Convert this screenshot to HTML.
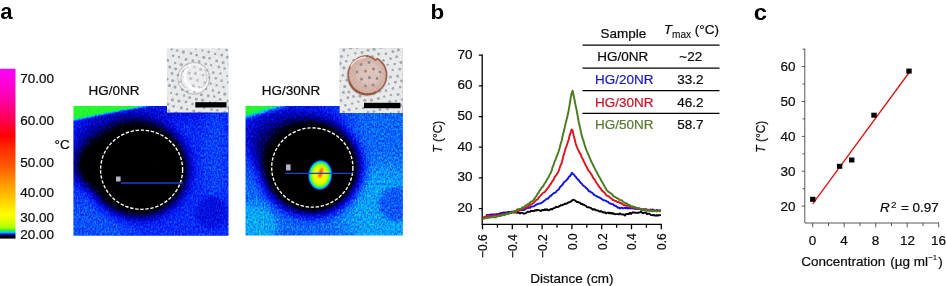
<!DOCTYPE html>
<html><head><meta charset="utf-8"><title>Figure</title>
<style>
html,body{margin:0;padding:0;background:#fff;}
body{width:946px;height:286px;overflow:hidden;position:relative;}
svg{position:absolute;left:0;top:0;display:block;}
text{font-family:"Liberation Sans",sans-serif;font-size:13.4px;fill:#0c0c0c;stroke:#0c0c0c;stroke-width:0.22px;}
.pl{font-weight:bold;font-size:20.5px;fill:#000;stroke:none;}
.i{font-style:italic;}
.r{font-size:12.5px;}
</style></head><body>
<svg width="946" height="286" viewBox="0 0 946 286">
<defs>
<linearGradient id="cbar" x1="0" y1="0" x2="0" y2="1">
<stop offset="0" stop-color="#ff00ff"/>
<stop offset="0.157" stop-color="#ff00b4"/>
<stop offset="0.305" stop-color="#ff0050"/>
<stop offset="0.396" stop-color="#ff0000"/>
<stop offset="0.478" stop-color="#ff3000"/>
<stop offset="0.571" stop-color="#ff5800"/>
<stop offset="0.663" stop-color="#ff9000"/>
<stop offset="0.755" stop-color="#ffc400"/>
<stop offset="0.83" stop-color="#fff000"/>
<stop offset="0.86" stop-color="#ffff00"/>
<stop offset="0.902" stop-color="#d8ff00"/>
<stop offset="0.938" stop-color="#a8ff00"/>
<stop offset="0.9505" stop-color="#30f030"/>
<stop offset="0.963" stop-color="#00d0ff"/>
<stop offset="0.971" stop-color="#0040ff"/>
<stop offset="0.979" stop-color="#000070"/>
<stop offset="0.987" stop-color="#000000"/>
<stop offset="1" stop-color="#000000"/>
</linearGradient>
<filter id="b05" x="-20%" y="-20%" width="140%" height="140%"><feGaussianBlur stdDeviation="0.45"/></filter>
<filter id="b1" x="-20%" y="-20%" width="140%" height="140%"><feGaussianBlur stdDeviation="0.8"/></filter>
<filter id="b2" x="-20%" y="-20%" width="140%" height="140%"><feGaussianBlur stdDeviation="2"/></filter>
<filter id="b4" x="-30%" y="-30%" width="160%" height="160%"><feGaussianBlur stdDeviation="4.5"/></filter>
<filter id="b6" x="-30%" y="-30%" width="160%" height="160%"><feGaussianBlur stdDeviation="6.5"/></filter>
<filter id="b10" x="-50%" y="-50%" width="200%" height="200%"><feGaussianBlur stdDeviation="10"/></filter>
<filter id="palL" filterUnits="userSpaceOnUse" x="73.4" y="106" width="155.1" height="129.7" color-interpolation-filters="sRGB">
<feTurbulence type="fractalNoise" baseFrequency="0.62 0.42" numOctaves="2" seed="4" result="n"/>
<feColorMatrix in="n" type="matrix" values="1 0 0 0 0  1 0 0 0 0  1 0 0 0 0  0 0 0 0 1" result="ng"/>
<feComposite in="SourceGraphic" in2="ng" operator="arithmetic" k1="0" k2="1" k3="0.22" k4="-0.11" result="s"/>
<feColorMatrix in="s" type="matrix" values="1 0 0 0 0  1 0 0 0 0  1 0 0 0 0  0 0 0 0 1" result="s2"/>
<feComponentTransfer in="s2">
<feFuncR type="table" tableValues="0.000 0.000 0.000 0.000 0.000 0.000 0.000 0.010 0.020 0.029 0.039 0.024 0.008 0.039 0.107 0.142 0.176 0.556 0.809 0.936 1.000 1.000 1.000 1.000 1.000 1.000"/>
<feFuncG type="table" tableValues="0.000 0.000 0.000 0.000 0.000 0.000 0.000 0.059 0.118 0.255 0.392 0.573 0.753 0.882 0.946 0.963 0.980 0.993 0.951 0.853 0.670 0.402 0.134 0.000 0.000 0.000"/>
<feFuncB type="table" tableValues="0.000 0.000 0.000 0.167 0.333 0.529 0.725 0.853 0.980 0.990 1.000 1.000 1.000 0.686 0.209 0.183 0.157 0.052 0.000 0.000 0.000 0.000 0.000 0.200 0.600 1.000"/>
</feComponentTransfer>
</filter>
<filter id="palR" filterUnits="userSpaceOnUse" x="245.5" y="106" width="157.4" height="129.5" color-interpolation-filters="sRGB">
<feTurbulence type="fractalNoise" baseFrequency="0.62 0.42" numOctaves="2" seed="11" result="n"/>
<feColorMatrix in="n" type="matrix" values="1 0 0 0 0  1 0 0 0 0  1 0 0 0 0  0 0 0 0 1" result="ng"/>
<feComposite in="SourceGraphic" in2="ng" operator="arithmetic" k1="0" k2="1" k3="0.22" k4="-0.11" result="s"/>
<feColorMatrix in="s" type="matrix" values="1 0 0 0 0  1 0 0 0 0  1 0 0 0 0  0 0 0 0 1" result="s2"/>
<feComponentTransfer in="s2">
<feFuncR type="table" tableValues="0.000 0.000 0.000 0.000 0.000 0.000 0.000 0.010 0.020 0.029 0.039 0.024 0.008 0.039 0.107 0.142 0.176 0.556 0.809 0.936 1.000 1.000 1.000 1.000 1.000 1.000"/>
<feFuncG type="table" tableValues="0.000 0.000 0.000 0.000 0.000 0.000 0.000 0.059 0.118 0.255 0.392 0.573 0.753 0.882 0.946 0.963 0.980 0.993 0.951 0.853 0.670 0.402 0.134 0.000 0.000 0.000"/>
<feFuncB type="table" tableValues="0.000 0.000 0.000 0.167 0.333 0.529 0.725 0.853 0.980 0.990 1.000 1.000 1.000 0.686 0.209 0.183 0.157 0.052 0.000 0.000 0.000 0.000 0.000 0.200 0.600 1.000"/>
</feComponentTransfer>
</filter>
<filter id="paper" x="0" y="0" width="100%" height="100%" color-interpolation-filters="sRGB">
<feTurbulence type="fractalNoise" baseFrequency="0.6" numOctaves="2" seed="2" result="n"/>
<feColorMatrix in="n" type="matrix" values="1 0 0 0 0  1 0 0 0 0  1 0 0 0 0  0 0 0 0 1" result="ng"/>
<feComposite in="SourceGraphic" in2="ng" operator="arithmetic" k1="0" k2="1" k3="0.12" k4="-0.06"/>
</filter>
<radialGradient id="hotc" cx="0.5" cy="0.5" r="0.5">
<stop offset="0" stop-color="#ffc800"/>
<stop offset="0.22" stop-color="#fff000"/>
<stop offset="0.5" stop-color="#e8ff00"/>
<stop offset="0.68" stop-color="#a8ff00"/>
<stop offset="0.79" stop-color="#30f040"/>
<stop offset="0.87" stop-color="#00d8f0"/>
<stop offset="0.93" stop-color="#0050ff"/>
<stop offset="0.98" stop-color="#000080"/>
<stop offset="1" stop-color="#000020" stop-opacity="0"/>
</radialGradient>
<radialGradient id="hot" cx="0.5" cy="0.5" r="0.5">
<stop offset="0" stop-color="#cccccc"/>
<stop offset="0.12" stop-color="#c7c7c7"/>
<stop offset="0.30" stop-color="#bbbbbb"/>
<stop offset="0.55" stop-color="#b5b5b5"/>
<stop offset="0.76" stop-color="#ababab"/>
<stop offset="0.86" stop-color="#949494"/>
<stop offset="0.93" stop-color="#7a7a7a"/>
<stop offset="0.98" stop-color="#4c4c4c"/>
<stop offset="1" stop-color="#262626"/>
</radialGradient>
<clipPath id="cL"><rect x="73.4" y="106" width="155.1" height="129.7"/></clipPath>
<clipPath id="cR"><rect x="245.5" y="106" width="157.4" height="129.5"/></clipPath>
<clipPath id="ciL"><rect x="166.9" y="48.4" width="61.6" height="64.2"/></clipPath>
<clipPath id="ciR"><rect x="339.5" y="48.1" width="63.4" height="64.9"/></clipPath>
</defs>

<!-- panel a -->
<text class="pl" transform="translate(0.2 19.3) scale(1.04 1)" style="font-size:21.3px">a</text>
<rect x="0" y="68.8" width="15.5" height="169.8" fill="url(#cbar)"/>
<text transform="translate(20.3 83.2) scale(1.008 1)">70.00</text>
<text transform="translate(20.3 125.2) scale(1.008 1)">60.00</text>
<text transform="translate(20.3 167.2) scale(1.008 1)">50.00</text>
<text transform="translate(20.3 197.2) scale(1.008 1)">40.00</text>
<text transform="translate(20.3 221.8) scale(1.008 1)">30.00</text>
<text transform="translate(20.3 239) scale(1.008 1)">20.00</text>
<text transform="translate(54.5 149) scale(1.008 1)">°C</text>
<text transform="translate(88.4 94.9) scale(1.008 1)">HG/0NR</text>
<text transform="translate(261.8 94.9) scale(1.008 1)">HG/30NR</text>

<!-- thermal left -->
<g clip-path="url(#cL)">
<g filter="url(#palL)">
<rect x="60" y="95" width="190" height="160" fill="#555555"/>
<ellipse cx="86" cy="226" rx="45" ry="32" fill="#606060" filter="url(#b10)"/>
<ellipse cx="150" cy="112" rx="70" ry="10" fill="#4c4c4c" filter="url(#b4)"/>
<ellipse cx="215" cy="160" rx="12" ry="50" fill="#5c5c5c" filter="url(#b4)"/>
<circle cx="212" cy="212" r="16" fill="#494949" filter="url(#b2)"/>
<ellipse cx="118" cy="140" rx="42" ry="24" fill="#333333" filter="url(#b10)"/>
<g filter="url(#b6)" fill="#000000">
<ellipse cx="138" cy="169" rx="49" ry="47"/>
<ellipse cx="110" cy="165" rx="34" ry="27"/>
</g>
<g fill="#000000" filter="url(#b2)">
<ellipse cx="141.6" cy="169.7" rx="41.5" ry="40"/>
<ellipse cx="110" cy="165" rx="24" ry="17"/>
</g>
<polygon points="60,90 200,90 200,95.6 60,122.6" fill="#999999" filter="url(#b1)"/>
</g>
<ellipse cx="141.6" cy="169.7" rx="41" ry="39.6" fill="none" stroke="#fff" stroke-width="1.35" stroke-dasharray="3.4 1.7"/>
<line x1="121" y1="183" x2="182.8" y2="183" stroke="#2040d0" stroke-width="1.3"/>
<rect x="116" y="176.5" width="4.6" height="5" fill="#b4b4c8"/>
</g>

<!-- thermal right -->
<g clip-path="url(#cR)">
<g filter="url(#palR)">
<rect x="235" y="95" width="190" height="160" fill="#666666"/>
<ellipse cx="275" cy="118" rx="75" ry="28" fill="#4f4f4f" filter="url(#b10)"/>
<ellipse cx="385" cy="210" rx="45" ry="45" fill="#737373" filter="url(#b10)"/>
<ellipse cx="252" cy="226" rx="25" ry="23" fill="#747474" filter="url(#b4)"/>
<circle cx="396" cy="204" r="17" fill="#626262" filter="url(#b2)"/>
<g filter="url(#b10)" fill="#2b2b2b">
<ellipse cx="288" cy="146" rx="40" ry="30"/>
</g>
<g filter="url(#b6)" fill="#000000">
<ellipse cx="311.5" cy="167.5" rx="48" ry="46"/>
</g>
<g fill="#000000" filter="url(#b2)">
<ellipse cx="312.3" cy="167.5" rx="41" ry="40"/>
</g>
<polygon points="235,96 286,96 286,105 245,117.5 235,119" fill="#999999" filter="url(#b2)"/>
</g>
<g transform="rotate(6 320.2 175)">
<ellipse cx="320.2" cy="175" rx="12.2" ry="15.3" fill="url(#hotc)" filter="url(#b05)"/>
<ellipse cx="320.5" cy="172.6" rx="1.5" ry="5.4" fill="#ff3a00" transform="rotate(10 320.5 172.6)" filter="url(#b1)"/>
</g>
<ellipse cx="312.3" cy="167.5" rx="40.6" ry="39.6" fill="none" stroke="#fff" stroke-width="1.35" stroke-dasharray="3.4 1.7"/>
<line x1="285" y1="173.4" x2="352.5" y2="173.4" stroke="#2040d0" stroke-width="1.3"/>
<rect x="286" y="164.4" width="4.6" height="6" fill="#b4b4c8"/>
</g>

<!-- inset left -->
<g clip-path="url(#ciL)">
<g filter="url(#paper)">
<rect x="166.8" y="48.3" width="61.7" height="64.7" fill="#e8e9eb"/>
<g fill="#a2a8b0" filter="url(#b05)"><circle cx="165.9" cy="54.7" r="1.25"/><circle cx="171.6" cy="49.1" r="1.46"/><circle cx="173.1" cy="55.8" r="1.30"/><circle cx="167.6" cy="60.3" r="1.52"/><circle cx="169.8" cy="67.0" r="1.59"/><circle cx="164.8" cy="72.4" r="1.30"/><circle cx="167.1" cy="79.3" r="1.45"/><circle cx="177.2" cy="50.5" r="1.28"/><circle cx="179.0" cy="56.9" r="1.23"/><circle cx="175.2" cy="63.1" r="1.24"/><circle cx="175.7" cy="68.7" r="1.50"/><circle cx="172.0" cy="73.5" r="1.44"/><circle cx="172.7" cy="80.8" r="1.47"/><circle cx="169.4" cy="85.5" r="1.55"/><circle cx="171.0" cy="93.1" r="1.15"/><circle cx="165.8" cy="98.2" r="1.35"/><circle cx="168.0" cy="104.3" r="1.54"/><circle cx="188.7" cy="46.7" r="1.19"/><circle cx="183.4" cy="52.0" r="1.63"/><circle cx="186.0" cy="59.5" r="1.43"/><circle cx="181.3" cy="64.5" r="1.61"/><circle cx="183.4" cy="71.2" r="1.20"/><circle cx="178.0" cy="75.1" r="1.42"/><circle cx="180.4" cy="81.8" r="1.24"/><circle cx="175.0" cy="87.1" r="1.55"/><circle cx="176.8" cy="94.3" r="1.40"/><circle cx="172.4" cy="99.8" r="1.62"/><circle cx="173.6" cy="106.3" r="1.32"/><circle cx="168.8" cy="110.7" r="1.41"/><circle cx="195.8" cy="48.8" r="1.16"/><circle cx="191.0" cy="53.5" r="1.39"/><circle cx="192.8" cy="60.7" r="1.37"/><circle cx="188.0" cy="65.0" r="1.44"/><circle cx="189.2" cy="73.0" r="1.55"/><circle cx="184.0" cy="77.0" r="1.38"/><circle cx="186.7" cy="83.8" r="1.33"/><circle cx="182.3" cy="89.7" r="1.35"/><circle cx="184.1" cy="95.5" r="1.19"/><circle cx="178.9" cy="101.0" r="1.60"/><circle cx="181.3" cy="107.9" r="1.53"/><circle cx="176.2" cy="112.8" r="1.53"/><circle cx="202.4" cy="50.4" r="1.19"/><circle cx="196.6" cy="55.2" r="1.33"/><circle cx="199.2" cy="61.7" r="1.37"/><circle cx="194.5" cy="67.0" r="1.18"/><circle cx="195.5" cy="73.4" r="1.55"/><circle cx="190.7" cy="78.6" r="1.56"/><circle cx="193.4" cy="85.8" r="1.61"/><circle cx="187.6" cy="91.4" r="1.44"/><circle cx="189.7" cy="97.8" r="1.48"/><circle cx="186.0" cy="101.9" r="1.44"/><circle cx="187.1" cy="109.3" r="1.27"/><circle cx="181.7" cy="114.2" r="1.33"/><circle cx="208.7" cy="52.1" r="1.36"/><circle cx="203.7" cy="57.3" r="1.63"/><circle cx="205.7" cy="63.9" r="1.26"/><circle cx="200.7" cy="69.3" r="1.53"/><circle cx="203.1" cy="75.2" r="1.36"/><circle cx="197.5" cy="80.4" r="1.33"/><circle cx="199.4" cy="87.4" r="1.28"/><circle cx="194.2" cy="92.1" r="1.22"/><circle cx="196.3" cy="99.3" r="1.45"/><circle cx="192.5" cy="104.1" r="1.42"/><circle cx="193.8" cy="111.0" r="1.46"/><circle cx="213.0" cy="47.3" r="1.33"/><circle cx="215.1" cy="54.0" r="1.30"/><circle cx="209.6" cy="58.3" r="1.32"/><circle cx="211.1" cy="65.1" r="1.18"/><circle cx="206.8" cy="70.4" r="1.45"/><circle cx="209.2" cy="77.4" r="1.23"/><circle cx="204.7" cy="82.6" r="1.40"/><circle cx="206.1" cy="88.9" r="1.23"/><circle cx="201.4" cy="94.7" r="1.54"/><circle cx="202.6" cy="100.1" r="1.62"/><circle cx="198.9" cy="106.0" r="1.53"/><circle cx="199.6" cy="112.8" r="1.25"/><circle cx="218.9" cy="48.7" r="1.15"/><circle cx="221.7" cy="55.0" r="1.52"/><circle cx="216.6" cy="60.9" r="1.45"/><circle cx="218.9" cy="67.0" r="1.40"/><circle cx="213.3" cy="72.5" r="1.30"/><circle cx="215.8" cy="78.3" r="1.27"/><circle cx="210.6" cy="83.4" r="1.25"/><circle cx="212.9" cy="90.4" r="1.26"/><circle cx="208.2" cy="95.7" r="1.47"/><circle cx="210.1" cy="102.6" r="1.28"/><circle cx="204.1" cy="107.4" r="1.50"/><circle cx="207.0" cy="113.5" r="1.47"/><circle cx="226.5" cy="50.1" r="1.30"/><circle cx="227.6" cy="57.2" r="1.65"/><circle cx="223.1" cy="62.7" r="1.48"/><circle cx="224.7" cy="68.5" r="1.33"/><circle cx="220.5" cy="73.4" r="1.22"/><circle cx="221.5" cy="80.7" r="1.34"/><circle cx="216.7" cy="85.3" r="1.19"/><circle cx="218.9" cy="92.6" r="1.37"/><circle cx="214.2" cy="96.6" r="1.29"/><circle cx="215.4" cy="103.2" r="1.58"/><circle cx="211.6" cy="109.4" r="1.22"/><circle cx="229.3" cy="64.3" r="1.37"/><circle cx="227.2" cy="76.1" r="1.15"/><circle cx="228.3" cy="82.2" r="1.32"/><circle cx="223.5" cy="86.9" r="1.27"/><circle cx="224.8" cy="94.1" r="1.65"/><circle cx="220.1" cy="99.3" r="1.42"/><circle cx="221.9" cy="104.9" r="1.41"/><circle cx="217.3" cy="110.3" r="1.29"/><circle cx="230.8" cy="88.7" r="1.29"/><circle cx="227.9" cy="101.1" r="1.51"/><circle cx="228.5" cy="107.7" r="1.37"/><circle cx="224.7" cy="112.5" r="1.48"/></g>
<circle cx="193.5" cy="78.2" r="14.6" fill="#f4f4f4" fill-opacity="0.35"/>
<circle cx="193.7" cy="78.4" r="16" fill="none" stroke="#a8a8a8" stroke-width="1" opacity="0.75" filter="url(#b05)"/>
<path d="M190 64.8 A14 14 0 0 0 202 89.4" fill="none" stroke="#ffffff" stroke-width="2.8" opacity="0.95" filter="url(#b05)"/>
<path d="M190 64.8 A14 14 0 0 1 207.4 76 A14 14 0 0 1 202 89.4" fill="none" stroke="#f4f4f4" stroke-width="2" opacity="0.7" filter="url(#b05)"/>
<path d="M203.5 69 A12 12 0 0 1 201 88" fill="none" stroke="#b4b4b4" stroke-width="0.9" opacity="0.8" filter="url(#b05)"/>
<path d="M189 66.6 A12.2 12.2 0 0 0 186 88" fill="none" stroke="#b0b0b0" stroke-width="0.9" opacity="0.8" filter="url(#b05)"/>
</g>
<rect x="195.3" y="102.2" width="31.2" height="5.3" fill="#000"/>
</g>

<!-- inset right -->
<g clip-path="url(#ciR)">
<g filter="url(#paper)">
<rect x="339.3" y="48.3" width="63.5" height="65.5" fill="#e8e9eb"/>
<g fill="#a4aab2" filter="url(#b05)"><circle cx="338.1" cy="106.4" r="1.40"/><circle cx="337.3" cy="69.1" r="1.26"/><circle cx="340.2" cy="81.1" r="1.19"/><circle cx="338.1" cy="87.5" r="1.59"/><circle cx="343.4" cy="92.6" r="1.50"/><circle cx="340.9" cy="100.4" r="1.48"/><circle cx="345.4" cy="105.3" r="1.34"/><circle cx="343.6" cy="112.1" r="1.38"/><circle cx="337.9" cy="51.7" r="1.64"/><circle cx="341.4" cy="56.5" r="1.62"/><circle cx="340.0" cy="63.5" r="1.64"/><circle cx="343.9" cy="67.9" r="1.59"/><circle cx="342.9" cy="75.2" r="1.32"/><circle cx="346.8" cy="80.2" r="1.40"/><circle cx="344.8" cy="86.5" r="1.59"/><circle cx="348.9" cy="92.1" r="1.50"/><circle cx="347.9" cy="97.8" r="1.47"/><circle cx="352.1" cy="103.6" r="1.18"/><circle cx="349.2" cy="109.8" r="1.55"/><circle cx="353.9" cy="114.9" r="1.33"/><circle cx="343.8" cy="50.1" r="1.55"/><circle cx="348.1" cy="55.6" r="1.16"/><circle cx="346.2" cy="61.2" r="1.32"/><circle cx="350.8" cy="66.8" r="1.36"/><circle cx="348.5" cy="73.0" r="1.27"/><circle cx="353.7" cy="78.5" r="1.44"/><circle cx="351.4" cy="85.1" r="1.52"/><circle cx="356.0" cy="90.2" r="1.64"/><circle cx="353.5" cy="96.5" r="1.46"/><circle cx="358.4" cy="101.8" r="1.20"/><circle cx="356.5" cy="108.5" r="1.20"/><circle cx="360.9" cy="114.2" r="1.17"/><circle cx="350.4" cy="47.9" r="1.55"/><circle cx="355.3" cy="53.3" r="1.20"/><circle cx="353.5" cy="60.3" r="1.22"/><circle cx="356.9" cy="65.9" r="1.42"/><circle cx="355.1" cy="72.1" r="1.31"/><circle cx="360.4" cy="77.2" r="1.63"/><circle cx="358.0" cy="84.4" r="1.27"/><circle cx="362.5" cy="89.0" r="1.56"/><circle cx="359.9" cy="96.1" r="1.55"/><circle cx="364.8" cy="100.2" r="1.53"/><circle cx="363.2" cy="108.0" r="1.43"/><circle cx="368.1" cy="112.4" r="1.32"/><circle cx="357.3" cy="47.3" r="1.51"/><circle cx="362.1" cy="52.6" r="1.49"/><circle cx="360.0" cy="59.1" r="1.30"/><circle cx="364.5" cy="63.7" r="1.50"/><circle cx="362.0" cy="70.5" r="1.24"/><circle cx="367.1" cy="75.3" r="1.55"/><circle cx="364.8" cy="82.4" r="1.48"/><circle cx="368.7" cy="88.2" r="1.24"/><circle cx="367.1" cy="94.2" r="1.49"/><circle cx="371.5" cy="100.1" r="1.58"/><circle cx="370.1" cy="105.4" r="1.23"/><circle cx="374.0" cy="111.6" r="1.33"/><circle cx="368.1" cy="50.2" r="1.47"/><circle cx="366.3" cy="57.3" r="1.22"/><circle cx="370.4" cy="63.0" r="1.44"/><circle cx="369.1" cy="69.4" r="1.24"/><circle cx="373.2" cy="73.8" r="1.52"/><circle cx="370.6" cy="81.6" r="1.39"/><circle cx="375.5" cy="85.7" r="1.55"/><circle cx="374.1" cy="93.1" r="1.48"/><circle cx="378.4" cy="98.4" r="1.51"/><circle cx="375.6" cy="104.9" r="1.61"/><circle cx="379.9" cy="109.4" r="1.53"/><circle cx="374.0" cy="49.2" r="1.58"/><circle cx="372.4" cy="56.6" r="1.29"/><circle cx="377.0" cy="60.7" r="1.56"/><circle cx="375.7" cy="67.4" r="1.31"/><circle cx="379.9" cy="72.5" r="1.17"/><circle cx="377.4" cy="79.5" r="1.42"/><circle cx="382.2" cy="84.6" r="1.36"/><circle cx="379.8" cy="91.0" r="1.54"/><circle cx="384.1" cy="96.6" r="1.21"/><circle cx="383.1" cy="103.7" r="1.21"/><circle cx="387.5" cy="109.0" r="1.34"/><circle cx="385.5" cy="115.6" r="1.15"/><circle cx="380.8" cy="47.4" r="1.25"/><circle cx="378.5" cy="54.0" r="1.47"/><circle cx="383.4" cy="60.4" r="1.32"/><circle cx="382.2" cy="66.0" r="1.42"/><circle cx="385.9" cy="72.1" r="1.32"/><circle cx="383.6" cy="78.2" r="1.27"/><circle cx="389.0" cy="83.8" r="1.16"/><circle cx="386.0" cy="90.6" r="1.31"/><circle cx="390.9" cy="94.9" r="1.27"/><circle cx="389.6" cy="101.5" r="1.51"/><circle cx="393.9" cy="107.1" r="1.49"/><circle cx="391.2" cy="113.6" r="1.40"/><circle cx="387.1" cy="46.3" r="1.62"/><circle cx="385.9" cy="53.9" r="1.33"/><circle cx="390.6" cy="58.6" r="1.45"/><circle cx="387.7" cy="64.7" r="1.19"/><circle cx="392.7" cy="70.1" r="1.25"/><circle cx="390.5" cy="76.9" r="1.51"/><circle cx="395.4" cy="82.3" r="1.45"/><circle cx="393.0" cy="88.4" r="1.43"/><circle cx="398.1" cy="94.5" r="1.56"/><circle cx="395.8" cy="100.9" r="1.16"/><circle cx="400.7" cy="105.2" r="1.49"/><circle cx="398.7" cy="112.0" r="1.35"/><circle cx="392.9" cy="51.5" r="1.53"/><circle cx="396.6" cy="56.8" r="1.54"/><circle cx="394.7" cy="64.0" r="1.26"/><circle cx="399.7" cy="69.2" r="1.40"/><circle cx="397.7" cy="76.1" r="1.54"/><circle cx="401.5" cy="81.0" r="1.46"/><circle cx="400.2" cy="87.1" r="1.38"/><circle cx="403.7" cy="92.1" r="1.41"/><circle cx="402.3" cy="99.4" r="1.29"/><circle cx="404.2" cy="110.4" r="1.37"/><circle cx="398.4" cy="50.0" r="1.51"/><circle cx="403.9" cy="55.1" r="1.17"/><circle cx="401.0" cy="62.4" r="1.62"/><circle cx="403.9" cy="74.3" r="1.47"/></g>
<circle cx="367.0" cy="76.2" r="19.6" fill="#7a6a66" opacity="0.45" filter="url(#b1)"/>
<path d="M367.4 55.9 A19.2 19.2 0 1 0 380 60.6 L377.5 58.6 L375.6 60.2 A19.2 19.2 0 0 0 367.4 55.9 Z" fill="#d2b2a7" stroke="#9a654f" stroke-width="1.7" stroke-linejoin="round"/>
<circle cx="369" cy="74" r="12" fill="#e2ccc4" opacity="0.7" filter="url(#b2)"/>
<path d="M349.4 82 A19 19 0 0 0 376 92.2" fill="none" stroke="#96583e" stroke-width="2.2" opacity="0.9" filter="url(#b05)"/>
<path d="M350.5 66.5 A18.4 18.4 0 0 1 366 57" fill="none" stroke="#fbeee8" stroke-width="1.3" opacity="0.9" filter="url(#b05)"/>
<g fill="#8c828a" opacity="0.9" filter="url(#b05)">
<circle cx="361" cy="64.5" r="1.4"/><circle cx="369" cy="62.5" r="1.4"/>
<circle cx="357" cy="72" r="1.4"/><circle cx="365.5" cy="71" r="1.5"/><circle cx="373.5" cy="69" r="1.5"/><circle cx="380" cy="72" r="1.3"/>
<circle cx="361.5" cy="79" r="1.5"/><circle cx="369.5" cy="77.5" r="1.5"/><circle cx="377" cy="78.5" r="1.4"/>
<circle cx="365.5" cy="86" r="1.4"/><circle cx="373" cy="85" r="1.5"/>
</g>
</g>
<rect x="364" y="102.8" width="36.4" height="5.4" fill="#000"/>
</g>

<!-- panel b -->
<text class="pl" transform="translate(430.4 18.8) scale(1.12 1)" style="font-size:20px">b</text>
<g stroke="#000" stroke-width="1.3" fill="none">
<path d="M482.2 54.6 V224.3 H661.9"/>
<path d="M478.8 55.2 H482.2 M478.8 85.9 H482.2 M478.8 116.6 H482.2 M478.8 147.2 H482.2 M478.8 177.9 H482.2 M478.8 208.6 H482.2"/>
<path d="M482.5 224.3 V229.3 M512.3 224.3 V229.3 M542.1 224.3 V229.3 M571.9 224.3 V229.3 M601.7 224.3 V229.3 M631.5 224.3 V229.3 M661.3 224.3 V229.3"/>
<path d="M497.4 224.3 V227.8 M527.2 224.3 V227.8 M557 224.3 V227.8 M586.8 224.3 V227.8 M616.6 224.3 V227.8 M646.4 224.3 V227.8"/>
</g>
<g text-anchor="end">
<text transform="translate(472.6 58.7) scale(1.008 1)">70</text>
<text transform="translate(472.6 89.4) scale(1.008 1)">60</text>
<text transform="translate(472.6 120.1) scale(1.008 1)">50</text>
<text transform="translate(472.6 150.7) scale(1.008 1)">40</text>
<text transform="translate(472.6 181.4) scale(1.008 1)">30</text>
<text transform="translate(472.6 212.1) scale(1.008 1)">20</text>
</g>
<text transform="translate(441.9 152.7) rotate(-90) scale(0.95 1)" style="font-size:12.6px"><tspan class="i">T</tspan> (°C)</text>
<g>
<text class="r" transform="translate(487.3 258) rotate(-90) scale(0.955 1)">−0.6</text>
<text class="r" transform="translate(517.1 258) rotate(-90) scale(0.955 1)">−0.4</text>
<text class="r" transform="translate(546.9 258) rotate(-90) scale(0.955 1)">−0.2</text>
<text class="r" transform="translate(576.7 250) rotate(-90) scale(0.955 1)">0.0</text>
<text class="r" transform="translate(606.5 250) rotate(-90) scale(0.955 1)">0.2</text>
<text class="r" transform="translate(636.3 250) rotate(-90) scale(0.955 1)">0.4</text>
<text class="r" transform="translate(666.1 250) rotate(-90) scale(0.955 1)">0.6</text>
</g>
<text transform="translate(530.2 282.6) scale(1.008 1)">Distance (cm)</text>
<g fill="none" stroke-width="1.95" stroke-linejoin="round" stroke-linecap="butt">
<path stroke="#000" d="M486.0 215.2 L487.0 215.4 L488.0 215.4 L489.0 215.8 L490.0 215.8 L491.0 214.7 L492.0 214.7 L493.0 214.7 L494.0 214.6 L495.0 214.7 L496.0 214.6 L497.0 214.4 L498.0 214.7 L499.0 213.9 L500.0 213.4 L501.0 213.1 L502.0 213.1 L503.0 212.8 L504.0 212.4 L505.0 213.1 L506.0 212.7 L507.0 212.4 L508.0 212.2 L509.0 211.9 L510.0 212.1 L511.0 213.0 L512.0 211.5 L513.0 212.3 L514.0 212.5 L515.0 212.3 L516.0 212.2 L517.0 212.8 L518.0 212.2 L519.0 213.0 L520.0 213.4 L521.0 212.7 L522.0 212.9 L523.0 213.3 L524.0 213.6 L525.0 213.5 L526.0 213.0 L527.0 212.2 L528.0 211.7 L529.0 211.9 L530.0 211.7 L531.0 210.8 L532.0 211.0 L533.0 210.9 L534.0 211.0 L535.0 210.2 L536.0 210.6 L537.0 209.9 L538.0 210.1 L539.0 210.1 L540.0 210.6 L541.0 211.1 L542.0 210.0 L543.0 210.0 L544.0 210.2 L545.0 209.3 L546.0 210.0 L547.0 209.3 L548.0 210.3 L549.0 210.1 L550.0 209.7 L551.0 208.9 L552.0 209.4 L553.0 208.6 L554.0 208.1 L555.0 207.9 L556.0 206.7 L557.0 207.1 L558.0 207.0 L559.0 206.4 L560.0 205.9 L561.0 205.1 L562.0 205.3 L563.0 204.7 L564.0 204.3 L565.0 203.7 L566.0 203.8 L567.0 203.4 L568.0 202.6 L569.0 202.3 L570.0 201.9 L571.0 201.5 L572.0 200.5 L573.0 199.8 L574.0 199.9 L575.0 200.5 L576.0 201.2 L577.0 201.9 L578.0 201.9 L579.0 202.6 L580.0 202.6 L581.0 204.0 L582.0 203.9 L583.0 204.6 L584.0 204.8 L585.0 205.4 L586.0 205.8 L587.0 207.2 L588.0 207.2 L589.0 207.4 L590.0 207.6 L591.0 208.1 L592.0 208.9 L593.0 209.7 L594.0 209.0 L595.0 209.6 L596.0 210.2 L597.0 210.4 L598.0 210.4 L599.0 211.2 L600.0 211.7 L601.0 211.0 L602.0 211.9 L603.0 212.3 L604.0 212.5 L605.0 212.2 L606.0 213.4 L607.0 212.9 L608.0 212.6 L609.0 213.3 L610.0 212.7 L611.0 213.6 L612.0 212.9 L613.0 213.8 L614.0 213.5 L615.0 214.2 L616.0 214.1 L617.0 214.1 L618.0 214.0 L619.0 214.4 L620.0 213.4 L621.0 214.3 L622.0 214.4 L623.0 214.4 L624.0 214.5 L625.0 215.5 L626.0 214.0 L627.0 214.1 L628.0 213.8 L629.0 214.1 L630.0 212.7 L631.0 213.9 L632.0 212.9 L633.0 212.2 L634.0 212.6 L635.0 212.8 L636.0 212.8 L637.0 212.7 L638.0 212.9 L639.0 212.5 L640.0 212.4 L641.0 211.6 L642.0 212.7 L643.0 213.1 L644.0 212.8 L645.0 212.5 L646.0 212.9 L647.0 214.2 L648.0 213.6 L649.0 213.8 L650.0 214.1 L651.0 215.1 L652.0 215.1 L653.0 215.3 L654.0 215.0 L655.0 215.4 L656.0 215.7 L657.0 215.2 L658.0 215.5 L659.0 215.2 L660.0 215.1 L661.0 215.0"/>
<path stroke="#1414e6" d="M486.0 215.0 L487.0 215.2 L488.0 215.0 L489.0 215.4 L490.0 214.6 L491.0 214.7 L492.0 214.8 L493.0 214.6 L494.0 214.7 L495.0 214.3 L496.0 214.8 L497.0 214.2 L498.0 214.6 L499.0 214.1 L500.0 214.4 L501.0 213.4 L502.0 213.8 L503.0 213.4 L504.0 213.5 L505.0 213.6 L506.0 212.8 L507.0 212.6 L508.0 212.5 L509.0 212.7 L510.0 211.9 L511.0 212.4 L512.0 211.8 L513.0 211.7 L514.0 211.7 L515.0 211.8 L516.0 211.2 L517.0 211.1 L518.0 210.9 L519.0 210.6 L520.0 209.7 L521.0 210.1 L522.0 210.0 L523.0 210.1 L524.0 210.1 L525.0 209.3 L526.0 208.8 L527.0 208.1 L528.0 208.0 L529.0 207.9 L530.0 207.7 L531.0 206.7 L532.0 206.6 L533.0 206.4 L534.0 206.3 L535.0 205.4 L536.0 204.8 L537.0 204.3 L538.0 204.0 L539.0 203.5 L540.0 203.6 L541.0 203.2 L542.0 202.5 L543.0 201.9 L544.0 200.8 L545.0 200.3 L546.0 199.4 L547.0 198.8 L548.0 198.5 L549.0 197.4 L550.0 196.1 L551.0 195.8 L552.0 194.8 L553.0 193.7 L554.0 193.0 L555.0 192.7 L556.0 192.1 L557.0 190.5 L558.0 190.0 L559.0 189.0 L560.0 187.1 L561.0 186.3 L562.0 185.1 L563.0 184.0 L564.0 182.3 L565.0 181.5 L566.0 180.7 L567.0 179.6 L568.0 178.5 L569.0 176.7 L570.0 176.1 L571.0 174.6 L572.0 172.8 L573.0 173.9 L574.0 174.7 L575.0 176.1 L576.0 177.1 L577.0 178.6 L578.0 179.5 L579.0 180.5 L580.0 182.0 L581.0 183.0 L582.0 183.9 L583.0 185.5 L584.0 186.0 L585.0 186.9 L586.0 187.9 L587.0 188.6 L588.0 189.8 L589.0 191.4 L590.0 191.3 L591.0 192.3 L592.0 192.7 L593.0 193.5 L594.0 194.9 L595.0 195.4 L596.0 195.7 L597.0 196.5 L598.0 196.9 L599.0 197.4 L600.0 197.9 L601.0 198.4 L602.0 199.2 L603.0 199.8 L604.0 200.3 L605.0 200.6 L606.0 200.7 L607.0 201.6 L608.0 201.8 L609.0 202.9 L610.0 203.3 L611.0 203.8 L612.0 204.0 L613.0 204.1 L614.0 205.4 L615.0 206.0 L616.0 205.8 L617.0 207.0 L618.0 207.8 L619.0 207.5 L620.0 208.5 L621.0 207.8 L622.0 207.7 L623.0 208.4 L624.0 208.1 L625.0 207.8 L626.0 208.3 L627.0 207.5 L628.0 208.6 L629.0 207.9 L630.0 208.2 L631.0 208.0 L632.0 208.3 L633.0 208.6 L634.0 208.2 L635.0 208.8 L636.0 208.6 L637.0 208.7 L638.0 209.0 L639.0 208.9 L640.0 209.1 L641.0 209.7 L642.0 209.5 L643.0 209.9 L644.0 209.8 L645.0 209.4 L646.0 209.2 L647.0 209.6 L648.0 210.0 L649.0 209.9 L650.0 209.7 L651.0 210.3 L652.0 209.5 L653.0 209.7 L654.0 210.1 L655.0 210.8 L656.0 210.3 L657.0 209.9 L658.0 210.4 L659.0 210.4 L660.0 210.5 L661.0 210.2"/>
<path stroke="#d81820" d="M482.6 217.1 L483.6 217.3 L484.6 216.9 L485.6 216.5 L486.6 216.5 L487.6 215.8 L488.6 216.0 L489.6 215.9 L490.6 216.2 L491.6 216.2 L492.6 215.8 L493.6 215.7 L494.6 215.3 L495.6 215.6 L496.6 215.7 L497.6 215.6 L498.6 215.1 L499.6 215.7 L500.6 215.3 L501.6 214.7 L502.6 214.3 L503.6 214.2 L504.6 214.2 L505.6 213.9 L506.6 213.8 L507.6 213.7 L508.6 213.6 L509.6 213.3 L510.6 212.7 L511.6 212.6 L512.6 212.1 L513.6 211.8 L514.6 212.3 L515.6 211.3 L516.6 211.7 L517.6 210.7 L518.6 210.5 L519.6 210.4 L520.6 209.8 L521.6 209.5 L522.6 209.0 L523.6 208.5 L524.6 208.1 L525.6 207.4 L526.6 207.6 L527.6 206.5 L528.6 206.5 L529.6 204.6 L530.6 204.8 L531.6 204.4 L532.6 203.4 L533.6 202.9 L534.6 201.8 L535.6 200.5 L536.6 199.7 L537.6 199.4 L538.6 197.7 L539.6 196.7 L540.6 195.5 L541.6 194.6 L542.6 193.2 L543.6 192.5 L544.6 192.3 L545.6 190.9 L546.6 189.6 L547.6 188.3 L548.6 187.1 L549.6 185.3 L550.6 184.3 L551.6 182.6 L552.6 180.8 L553.6 179.8 L554.6 177.0 L555.6 176.0 L556.6 174.8 L557.6 172.9 L558.6 171.1 L559.6 168.2 L560.6 165.2 L561.6 163.2 L562.6 159.2 L563.6 155.3 L564.6 152.0 L565.6 148.3 L566.6 145.8 L567.6 142.7 L568.6 140.0 L569.6 135.7 L570.6 132.9 L571.6 129.4 L572.6 130.6 L573.6 135.4 L574.6 138.9 L575.6 143.3 L576.6 146.2 L577.6 148.6 L578.6 150.5 L579.6 152.9 L580.6 154.2 L581.6 156.9 L582.6 158.7 L583.6 161.0 L584.6 162.9 L585.6 165.2 L586.6 166.6 L587.6 169.1 L588.6 170.8 L589.6 171.6 L590.6 173.2 L591.6 174.8 L592.6 176.7 L593.6 178.6 L594.6 179.4 L595.6 181.4 L596.6 183.0 L597.6 184.6 L598.6 185.8 L599.6 187.5 L600.6 188.3 L601.6 190.2 L602.6 191.2 L603.6 191.8 L604.6 192.9 L605.6 194.2 L606.6 195.7 L607.6 195.8 L608.6 196.2 L609.6 197.3 L610.6 198.1 L611.6 198.5 L612.6 199.8 L613.6 200.0 L614.6 200.7 L615.6 200.9 L616.6 201.6 L617.6 202.0 L618.6 201.8 L619.6 203.0 L620.6 202.8 L621.6 203.8 L622.6 203.8 L623.6 205.2 L624.6 205.1 L625.6 205.5 L626.6 205.9 L627.6 205.5 L628.6 205.5 L629.6 206.4 L630.6 207.1 L631.6 207.1 L632.6 207.6 L633.6 207.9 L634.6 207.4 L635.6 208.1 L636.6 208.8 L637.6 208.2 L638.6 208.0 L639.6 208.7 L640.6 208.8 L641.6 209.3 L642.6 209.1 L643.6 209.5 L644.6 209.0 L645.6 210.1 L646.6 210.4 L647.6 210.5 L648.6 209.8 L649.6 210.5 L650.6 209.6 L651.6 210.7 L652.6 210.6 L653.6 210.4 L654.6 210.9 L655.6 210.9 L656.6 211.2 L657.6 211.0 L658.6 211.1 L659.6 210.5 L660.6 210.8"/>
<path stroke="#4a7d22" d="M482.6 219.2 L483.6 218.7 L484.6 218.4 L485.6 217.7 L486.6 218.1 L487.6 217.9 L488.6 217.8 L489.6 217.5 L490.6 217.6 L491.6 217.3 L492.6 216.9 L493.6 217.4 L494.6 217.3 L495.6 217.4 L496.6 216.7 L497.6 216.4 L498.6 216.1 L499.6 215.6 L500.6 216.1 L501.6 215.2 L502.6 214.9 L503.6 214.9 L504.6 215.2 L505.6 214.5 L506.6 213.8 L507.6 213.6 L508.6 213.7 L509.6 213.1 L510.6 212.6 L511.6 212.4 L512.6 212.3 L513.6 212.3 L514.6 211.0 L515.6 210.8 L516.6 210.3 L517.6 209.3 L518.6 209.3 L519.6 208.9 L520.6 209.0 L521.6 208.2 L522.6 207.3 L523.6 207.5 L524.6 206.6 L525.6 205.4 L526.6 205.1 L527.6 204.4 L528.6 203.6 L529.6 203.2 L530.6 201.8 L531.6 201.6 L532.6 201.1 L533.6 199.8 L534.6 198.4 L535.6 197.0 L536.6 195.8 L537.6 193.6 L538.6 192.8 L539.6 190.5 L540.6 189.5 L541.6 187.6 L542.6 186.9 L543.6 185.4 L544.6 183.4 L545.6 182.4 L546.6 180.0 L547.6 178.7 L548.6 177.1 L549.6 174.9 L550.6 173.1 L551.6 170.8 L552.6 167.1 L553.6 164.8 L554.6 161.7 L555.6 159.6 L556.6 156.6 L557.6 154.2 L558.6 151.5 L559.6 148.1 L560.6 144.0 L561.6 141.0 L562.6 136.0 L563.6 132.1 L564.6 128.0 L565.6 123.4 L566.6 119.5 L567.6 115.6 L568.6 110.7 L569.6 104.8 L570.6 98.4 L571.6 93.3 L572.6 90.7 L573.6 95.5 L574.6 100.2 L575.6 105.4 L576.6 110.0 L577.6 115.5 L578.6 121.2 L579.6 125.8 L580.6 130.4 L581.6 135.1 L582.6 138.4 L583.6 141.2 L584.6 144.8 L585.6 147.9 L586.6 150.6 L587.6 152.8 L588.6 155.1 L589.6 157.3 L590.6 160.0 L591.6 162.1 L592.6 164.0 L593.6 166.2 L594.6 168.1 L595.6 170.3 L596.6 171.7 L597.6 173.9 L598.6 175.8 L599.6 177.5 L600.6 179.0 L601.6 181.4 L602.6 182.6 L603.6 184.8 L604.6 186.4 L605.6 188.0 L606.6 190.1 L607.6 191.1 L608.6 191.8 L609.6 192.7 L610.6 193.2 L611.6 194.0 L612.6 194.9 L613.6 196.4 L614.6 196.8 L615.6 197.1 L616.6 198.0 L617.6 198.3 L618.6 198.9 L619.6 199.9 L620.6 200.1 L621.6 200.3 L622.6 201.2 L623.6 202.0 L624.6 202.6 L625.6 203.4 L626.6 203.3 L627.6 204.3 L628.6 204.7 L629.6 205.0 L630.6 205.8 L631.6 206.2 L632.6 206.2 L633.6 207.2 L634.6 206.8 L635.6 207.4 L636.6 207.7 L637.6 208.2 L638.6 208.1 L639.6 208.6 L640.6 208.9 L641.6 209.5 L642.6 209.1 L643.6 209.6 L644.6 209.7 L645.6 209.6 L646.6 211.0 L647.6 210.4 L648.6 210.2 L649.6 211.2 L650.6 210.6 L651.6 211.1 L652.6 211.3 L653.6 210.9 L654.6 211.0 L655.6 211.0 L656.6 211.2 L657.6 210.7 L658.6 210.9 L659.6 211.3 L660.6 211.7"/>
</g>
<!-- table -->
<g stroke="#000" stroke-width="1.2">
<line x1="582.5" y1="45.2" x2="719.5" y2="45.2"/>
<line x1="582.5" y1="68.2" x2="719.5" y2="68.2"/>
<line x1="582.5" y1="90.6" x2="719.5" y2="90.6"/>
<line x1="582.5" y1="113.3" x2="719.5" y2="113.3"/>
</g>
<g text-anchor="middle">
<text transform="translate(623.4 38) scale(1.008 1)">Sample</text>
<text transform="translate(622.8 61.1) scale(1.008 1)">HG/0NR</text>
<text transform="translate(624.3 83.7) scale(1.008 1)" style="fill:#1a1acc;stroke:#1a1acc">HG/20NR</text>
<text transform="translate(624.3 106.9) scale(1.008 1)" style="fill:#cc1426;stroke:#cc1426">HG/30NR</text>
<text transform="translate(624.3 129) scale(1.008 1)" style="fill:#5a7a32;stroke:#5a7a32">HG/50NR</text>
<text transform="translate(690.8 61.1) scale(1.008 1)">~22</text>
<text transform="translate(690.3 83.7) scale(1.008 1)">33.2</text>
<text transform="translate(690.3 106.9) scale(1.008 1)">46.2</text>
<text transform="translate(690.3 129) scale(1.008 1)">58.7</text>
</g>
<text transform="translate(663.8 33.9) scale(1.008 1)"><tspan class="i">T</tspan><tspan dy="4.1" style="font-size:10px;stroke-width:0.1px">max</tspan><tspan dy="-4.1"> (°C)</tspan></text>

<!-- panel c -->
<text class="pl" transform="translate(753.7 19.7) scale(1.12 1)" style="font-size:21.3px">c</text>
<g stroke="#444" stroke-width="0.9" fill="none">
<path d="M804.8 48.6 V223 H939"/>
<path d="M801.8 66.6 H804.8 M801.8 101.5 H804.8 M801.8 136.4 H804.8 M801.8 171.2 H804.8 M801.8 206.1 H804.8"/>
<path d="M802.6 49.2 H804.8 M802.6 84 H804.8 M802.6 118.9 H804.8 M802.6 153.8 H804.8 M802.6 188.7 H804.8"/>
<path d="M812.7 223 V227.3 M844.2 223 V227.3 M875.7 223 V227.3 M907.2 223 V227.3 M938.7 223 V227.3"/>
<path d="M828.5 223 V226 M860 223 V226 M891.5 223 V226 M923 223 V226"/>
</g>
<g text-anchor="end">
<text transform="translate(795.4 71.4) scale(1.008 1)">60</text>
<text transform="translate(795.4 106.3) scale(1.008 1)">50</text>
<text transform="translate(795.4 141.2) scale(1.008 1)">40</text>
<text transform="translate(795.4 176) scale(1.008 1)">30</text>
<text transform="translate(795.4 210.9) scale(1.008 1)">20</text>
</g>
<text transform="translate(764.6 152.7) rotate(-90) scale(0.95 1)" style="font-size:12.6px"><tspan class="i">T</tspan> (°C)</text>
<g text-anchor="middle">
<text transform="translate(812.6 245.4) scale(1.008 1)">0</text>
<text transform="translate(844.1 245.4) scale(1.008 1)">4</text>
<text transform="translate(875.6 245.4) scale(1.008 1)">8</text>
<text transform="translate(907.4 245.4) scale(1.008 1)">12</text>
<text transform="translate(938.6 245.4) scale(1.008 1)">16</text>
</g>
<text transform="translate(801.3 265.5) scale(1.008 1)">Concentration <tspan dx="1.2">(µg</tspan> ml<tspan dy="-5.4" dx="0.2" style="font-size:7.8px;stroke-width:0.1px">−1</tspan><tspan dy="5.4" dx="1">)</tspan></text>
<text transform="translate(880 211.8) scale(1.008 1)"><tspan class="i">R</tspan><tspan dy="-4.3" dx="1.2" style="font-size:9.8px;stroke-width:0.12px">2</tspan><tspan dy="4.3" dx="0.7"> = 0.97</tspan></text>
<line x1="812.7" y1="203.9" x2="909.5" y2="72" stroke="#e01010" stroke-width="1.3"/>
<g fill="#000">
<rect x="810.1" y="196.8" width="5.4" height="5"/>
<rect x="836.9" y="163.8" width="5.4" height="5"/>
<rect x="849" y="157.5" width="5.4" height="5"/>
<rect x="871.3" y="112.7" width="5.4" height="5"/>
<rect x="906.3" y="68.6" width="5.4" height="5"/>
</g>
</svg>
</body></html>
